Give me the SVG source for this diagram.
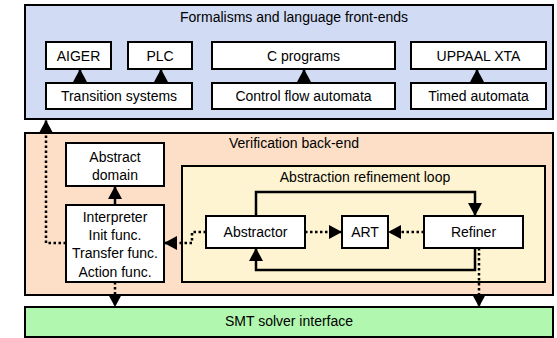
<svg xmlns="http://www.w3.org/2000/svg" width="557" height="338" viewBox="0 0 557 338">
<defs>
<style>
text{font-family:"Liberation Sans",Arial,sans-serif;font-size:14px;fill:#000;text-anchor:middle;dominant-baseline:central}
.box{fill:#fff;stroke:#000;stroke-width:2}
.panel{stroke:#000;stroke-width:2}
.solid{fill:none;stroke:#000;stroke-width:2.5}
.dot{fill:none;stroke:#000;stroke-width:2.5;stroke-dasharray:2.5 2.5}
</style>
<marker id="ah" markerUnits="userSpaceOnUse" markerWidth="14" markerHeight="14" refX="13" refY="7" orient="auto" viewBox="0 0 14 14">
<path d="M0,0 L13,7 L0,14 z" fill="#000"/>
</marker>
</defs>
<g id="frontends">
<rect class="panel" x="25" y="5" width="528" height="114" fill="#D1DBF4"/>
<text x="294" y="17">Formalisms and language front-ends</text>
</g>
<g id="backend">
<rect class="panel" x="25" y="133" width="528" height="162" fill="#FCDFC6"/>
<text x="294" y="143">Verification back-end</text>
</g>
<g id="loop">
<rect class="panel" x="182" y="166" width="363" height="116" fill="#FFF4D1"/>
<text x="365" y="177">Abstraction refinement loop</text>
</g>
<g id="smt">
<rect class="panel" x="25" y="307" width="528" height="30" fill="#B2F7AF"/>
<text x="289" y="321">SMT solver interface</text>
</g>
<g id="aiger"><rect class="box" x="46" y="42" width="65" height="27"/><text x="78.5" y="55.5">AIGER</text></g>
<g id="plc"><rect class="box" x="128" y="42" width="64" height="27"/><text x="160" y="55.5">PLC</text></g>
<g id="cprog"><rect class="box" x="212" y="42" width="183" height="27"/><text x="303.5" y="55.5">C programs</text></g>
<g id="uppaal"><rect class="box" x="411" y="42" width="135" height="27"/><text x="478.5" y="55.5">UPPAAL XTA</text></g>
<g id="ts"><rect class="box" x="46" y="83" width="146" height="26"/><text x="119" y="96">Transition systems</text></g>
<g id="cfa"><rect class="box" x="212" y="83" width="183" height="26"/><text x="303.5" y="96">Control flow automata</text></g>
<g id="ta"><rect class="box" x="411" y="83" width="135" height="26"/><text x="478.5" y="96">Timed automata</text></g>
<g id="absdomain"><rect class="box" x="66" y="143" width="98" height="43"/><text x="115" y="157">Abstract</text><text x="115" y="175">domain</text></g>
<g id="interpreter"><rect class="box" x="66" y="205" width="98" height="77"/><text x="115" y="217">Interpreter</text><text x="115" y="235">Init func.</text><text x="115" y="253">Transfer func.</text><text x="115" y="272">Action func.</text></g>
<g id="abstractor"><rect class="box" x="206" y="216" width="99" height="32"/><text x="255.5" y="232">Abstractor</text></g>
<g id="art"><rect class="box" x="342" y="216" width="46" height="32"/><text x="365" y="232">ART</text></g>
<g id="refiner"><rect class="box" x="424" y="216" width="99" height="32"/><text x="473.5" y="232">Refiner</text></g>
<g id="connectors">
<path class="solid" d="M80,83 V69" marker-end="url(#ah)"/>
<path class="solid" d="M161,83 V69" marker-end="url(#ah)"/>
<path class="solid" d="M304,83 V69" marker-end="url(#ah)"/>
<path class="solid" d="M477,83 V69" marker-end="url(#ah)"/>
<path class="solid" d="M115,205 V186" marker-end="url(#ah)"/>
<path class="solid" d="M256,216 V192 H475 V216" marker-end="url(#ah)"/>
<path class="solid" d="M475,248 V270 H256 V248" marker-end="url(#ah)"/>
<path class="dot" d="M305,232 H342" marker-end="url(#ah)"/>
<path class="dot" d="M424,232 H388" marker-end="url(#ah)"/>
<path class="dot" d="M206,232 H192 V243 H164" marker-end="url(#ah)"/>
<path class="dot" d="M66,243 H46 V120" marker-end="url(#ah)"/>
<path class="dot" d="M115,282 V307" marker-end="url(#ah)"/>
<path class="dot" d="M479,248 V307" marker-end="url(#ah)"/>
</g>
</svg>
